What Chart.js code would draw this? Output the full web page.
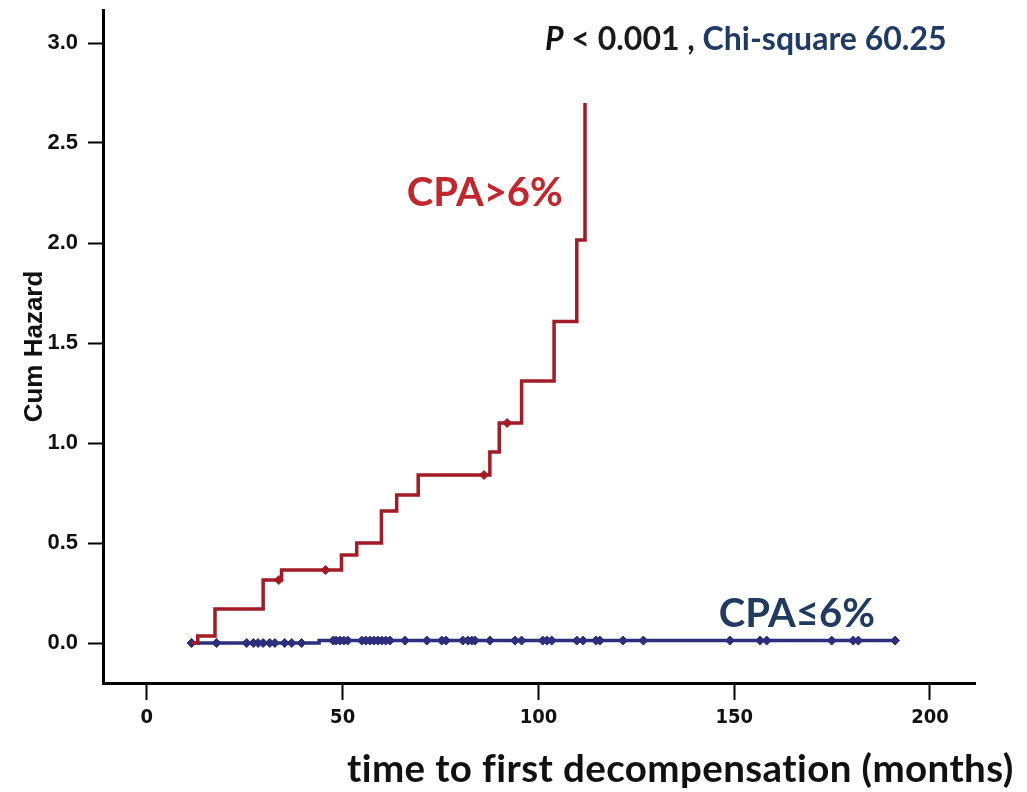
<!DOCTYPE html>
<html>
<head>
<meta charset="utf-8">
<title>Cum Hazard</title>
<script src="https://cdn.jsdelivr.net/npm/chart.js@4.4.1/dist/chart.umd.min.js"></script>
<style>
  html, body { margin: 0; padding: 0; background: #fff; }
  #wrap { width: 1027px; height: 792px; position: relative; }
</style>
</head>
<body>
<div id="wrap"><canvas id="hazChart" width="1027" height="792"></canvas></div>
<script>
// CPA > 6% : event times (months) and cumulative hazard after each step
const redTimes = [11.5, 13.0, 17.4, 29.7, 34.4, 49.7, 53.6, 59.9, 63.8, 69.3, 87.6, 90.0, 95.7, 104.0, 109.8, 111.9];
const redHaz   = [0, 0.035, 0.17, 0.315, 0.365, 0.44, 0.50, 0.66, 0.74, 0.84, 0.955, 1.10, 1.31, 1.607, 2.015, 2.70];
const redCensorTimes = [33.7, 45.6, 86.1, 92.0];

// CPA <= 6%
const blueTimes = [11.4, 44.0, 191.1];
const blueHaz   = [0, 0.012, 0.012];
const blueCensorTimes = [11.4, 17.8, 25.5, 27.2, 28.4, 29.7, 31.4, 32.7, 35.2, 37.0, 39.5, 47.6, 48.3, 49.3,
  50.3, 51.3, 54.9, 55.9, 57.0, 58.0, 59.0, 60.0, 61.0, 62.1, 65.9, 71.5, 75.3, 76.4, 80.7, 82.0, 83.0,
  83.8, 87.6, 94.0, 95.7, 101.1, 102.2, 103.4, 109.8, 111.4, 114.7, 115.7, 121.6, 126.8, 148.9, 156.6,
  158.3, 174.9, 180.4, 181.7, 191.1];

const xTicks = [0, 50, 100, 150, 200];
const yTicks = [0, 0.5, 1.0, 1.5, 2.0, 2.5, 3.0];

const RED = '#a31b26';
const NAVY = '#2c2e7e';

// value of the step curve at time t (used to put censor marks on the line)
function hazAt(times, haz, t) {
  let v = haz[0];
  for (let i = 0; i < times.length; i++) {
    if (times[i] <= t) v = haz[i];
  }
  return v;
}

const toPts = (xs, ys) => xs.map((x, i) => ({ x: x, y: ys[i] }));

// text drawn over the plot: test result, group labels, x axis title
const textPlugin = {
  id: 'hazText',
  afterDraw(chart) {
    const ctx = chart.ctx;
    const xs = chart.scales.x, ys = chart.scales.y;
    ctx.save();
    ctx.textBaseline = 'alphabetic';

    // P < 0.001 , Chi-square 60.25
    const parts = [
      { t: 'P', f: 'italic bold 32px Lato', c: '#111' },
      { t: ' < 0.001 , ', f: 'bold 32px Lato', c: '#1a1a1a' },
      { t: 'Chi-square 60.25', f: 'bold 32px Lato', c: '#1f3a64' }
    ];
    let x = 545;
    parts.forEach(p => {
      ctx.font = p.f;
      ctx.fillStyle = p.c;
      ctx.textAlign = 'left';
      ctx.fillText(p.t, x, 50);
      x += ctx.measureText(p.t).width;
    });

    ctx.textAlign = 'center';
    ctx.textBaseline = 'middle';
    ctx.font = 'bold 40px Lato';
    ctx.fillStyle = '#c4262e';
    ctx.fillText('CPA>6%', xs.getPixelForValue(86.3), ys.getPixelForValue(2.25));
    ctx.fillStyle = '#213a60';
    ctx.fillText('CPA≤6%', xs.getPixelForValue(166), ys.getPixelForValue(0.145));

    ctx.textAlign = 'left';
    ctx.textBaseline = 'alphabetic';
    ctx.letterSpacing = '0.4px';
    ctx.font = 'bold 38.5px Lato';
    ctx.fillStyle = '#111';
    ctx.fillText('time to first decompensation (months)', 347, 782);
    ctx.restore();
  }
};

new Chart(document.getElementById('hazChart'), {
  type: 'line',
  data: {
    datasets: [
      {
        data: toPts(redTimes, redHaz),
        borderColor: RED,
        borderWidth: 3.5,
        stepped: true,
        pointRadius: 0,
        fill: false
      },
      {
        data: redCensorTimes.map(t => ({ x: t, y: hazAt(redTimes, redHaz, t) })),
        showLine: false,
        pointStyle: 'rectRot',
        pointRadius: 4.5,
        pointBackgroundColor: RED,
        pointBorderColor: RED
      },
      {
        data: toPts(blueTimes, blueHaz),
        borderColor: NAVY,
        borderWidth: 3.5,
        stepped: true,
        pointRadius: 0,
        fill: false
      },
      {
        data: blueCensorTimes.map(t => ({ x: t, y: hazAt(blueTimes, blueHaz, t) })),
        showLine: false,
        pointStyle: 'rectRot',
        pointRadius: 4.5,
        pointBackgroundColor: NAVY,
        pointBorderColor: NAVY
      }
    ]
  },
  options: {
    responsive: false,
    animation: false,
    layout: { padding: { top: 10, right: 52, left: 0, bottom: 0 } },
    plugins: { legend: { display: false }, tooltip: { enabled: false } },
    scales: {
      x: {
        type: 'linear',
        min: -11.2,
        max: 211.5,
        afterBuildTicks: s => { s.ticks = xTicks.map(v => ({ value: v })); },
        afterFit: s => { s.height = 109; s.paddingLeft = 0; s.paddingRight = 0; },
        border: { display: true, color: '#000', width: 3 },
        grid: { drawOnChartArea: false, drawTicks: true, tickLength: 17, tickColor: '#000', tickWidth: 2 },
        ticks: {
          color: '#111',
          padding: 6,
          font: { family: "'DejaVu Sans Condensed', 'Liberation Sans', Arial", size: 20, weight: 'bold' }
        }
      },
      y: {
        type: 'linear',
        min: -0.2,
        max: 3.165,
        afterBuildTicks: s => { s.ticks = yTicks.map(v => ({ value: v })); },
        afterFit: s => { s.width = 103; s.paddingTop = 0; s.paddingBottom = 0; },
        border: { display: true, color: '#000', width: 3 },
        grid: { drawOnChartArea: false, drawTicks: true, tickLength: 15, tickColor: '#000', tickWidth: 2 },
        ticks: {
          color: '#111',
          padding: 10,
          callback: v => v.toFixed(1),
          font: { family: "'Liberation Sans', Arial", size: 22, weight: 'bold' }
        },
        title: {
          display: true,
          text: 'Cum Hazard',
          color: '#111',
          padding: { top: 19, bottom: 0 },
          font: { family: "'Liberation Sans', Arial", size: 26, weight: 'bold' }
        }
      }
    }
  },
  plugins: [textPlugin]
});
</script>
</body>
</html>
